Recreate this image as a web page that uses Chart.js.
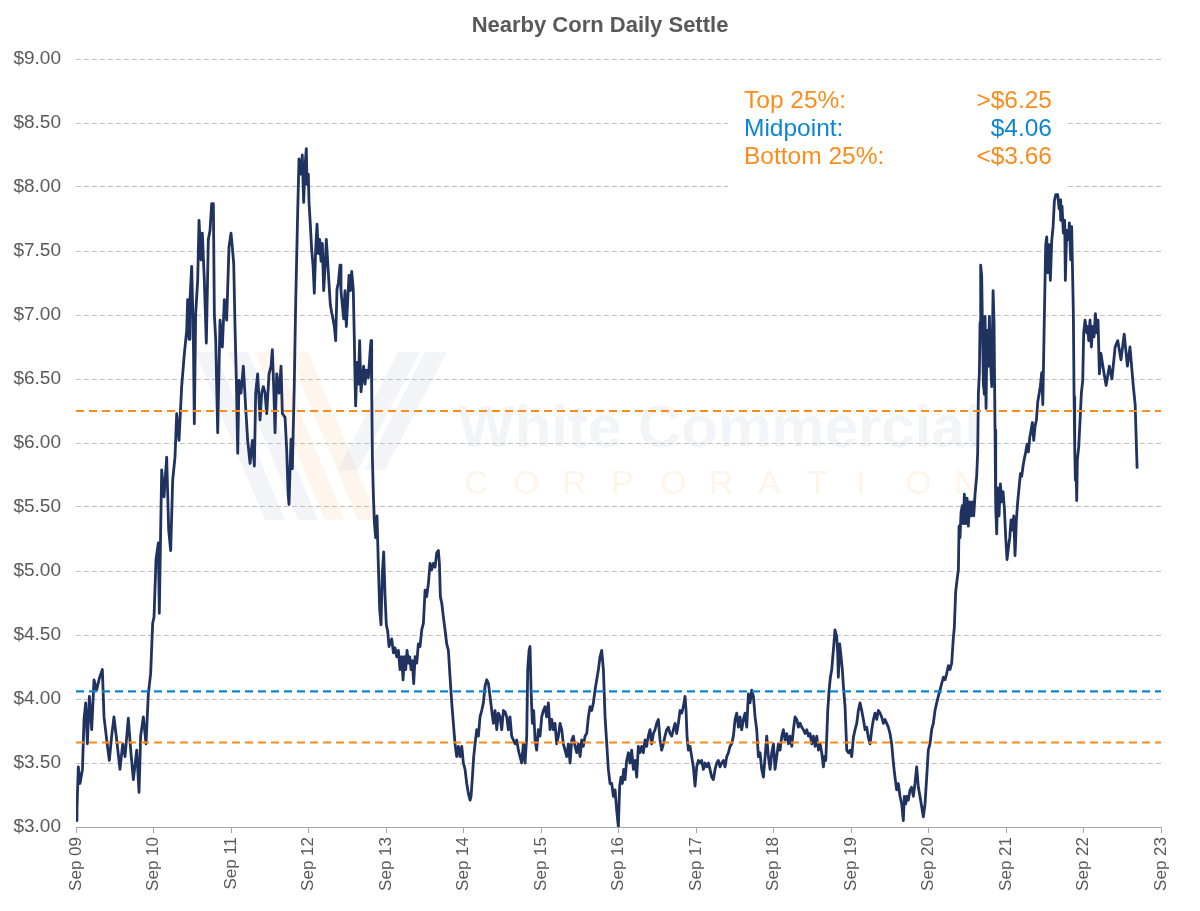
<!DOCTYPE html>
<html>
<head>
<meta charset="utf-8">
<title>Nearby Corn Daily Settle</title>
<script src="https://cdn.jsdelivr.net/npm/chart.js@4.4.1/dist/chart.umd.min.js"></script>
<style>
  html, body { margin: 0; padding: 0; background: #fff; }
  #wrap { width: 1200px; height: 911px; }
</style>
</head>
<body>
<div id="wrap"><canvas id="cornChart" width="1200" height="911"></canvas></div>
<script>
// nearby settle, $/bu — x is months counted from Sep 2009
const s2009 = [[0,3.05],[0.15,3.14],[0.36,3.47],[0.62,3.34],[1.0,3.45],[1.24,3.84],[1.5,3.97],[1.76,3.65],[2.07,4.02],[2.43,3.76],[2.79,4.15],[3.2,4.07],[3.61,4.16],[4.08,4.23],[4.34,3.86],[4.75,3.68],[5.16,3.52],[5.52,3.71],[5.88,3.86],[6.3,3.68],[6.81,3.45],[7.23,3.65],[7.59,3.55],[8.1,3.85],[8.47,3.60],[8.88,3.37],[9.4,3.60],[9.76,3.27],[10.01,3.71],[10.43,3.86],[10.84,3.65],[11.2,4.04],[11.56,4.20],[11.87,4.59]];
const s2010 = [[12.08,4.64],[12.39,5.09],[12.75,5.22],[12.9,4.67],[13.11,5.32],[13.27,5.79],[13.63,5.58],[14.04,5.89],[14.35,5.32],[14.66,5.16],[14.97,5.71],[15.33,5.89],[15.59,6.23],[15.95,6.02],[16.36,6.44],[16.78,6.70],[17.14,6.88],[17.29,7.12],[17.5,6.81],[17.65,7.12],[17.91,7.38],[18.17,6.83],[18.32,6.15],[18.53,7.01],[18.84,7.27],[19.05,7.74],[19.36,7.43],[19.56,7.64],[19.87,7.27],[20.18,6.78],[20.49,7.59],[20.75,7.66],[21.01,7.87],[21.27,7.87],[21.42,7.01],[21.63,6.81],[21.94,6.08],[22.3,6.96],[22.66,6.75],[22.97,7.12],[23.33,6.96],[23.69,7.53]];
const s2011 = [[24.0,7.64],[24.21,7.53],[24.42,7.40],[24.62,6.91],[24.83,6.49],[25.04,5.92],[25.24,6.49],[25.55,6.39],[25.91,6.60],[26.27,6.28],[26.58,6.02],[26.95,5.84],[27.31,6.02],[27.62,5.82],[27.82,6.39],[28.13,6.54],[28.5,6.18],[28.75,6.39],[29.01,6.44],[29.27,6.39],[29.53,6.23],[29.89,6.54],[30.2,6.60],[30.4,6.73],[30.61,6.44],[30.82,6.08],[31.08,6.54],[31.44,6.39],[31.75,6.60],[31.95,6.23],[32.37,6.20],[32.62,5.95],[32.85,5.60],[32.98,5.52],[33.29,6.03],[33.5,5.80],[33.8,6.46],[34.01,7.08],[34.32,7.79],[34.53,8.22],[34.84,8.10],[35.04,8.25],[35.25,7.88],[35.46,8.16],[35.66,8.30],[35.77,8.02],[35.97,8.10]];
const s2012 = [[36.08,7.88],[36.28,7.71],[36.49,7.51],[36.7,7.39],[36.9,7.17],[37.11,7.51],[37.32,7.71],[37.52,7.48],[37.73,7.59],[37.94,7.42],[38.14,7.56],[38.35,7.19],[38.56,7.37],[38.76,7.59],[38.97,7.42],[39.17,7.25],[39.38,7.08],[39.59,7.02],[39.79,6.97],[40.0,6.91],[40.21,6.80],[40.41,7.20],[40.62,7.25],[40.88,7.39],[41.03,7.19],[41.24,7.08],[41.45,6.97],[41.65,7.19],[41.86,6.91],[42.07,7.11],[42.27,7.31],[42.48,7.19],[42.69,7.34],[42.94,7.19],[43.1,6.80],[43.2,6.51],[43.3,6.29],[43.51,6.63],[43.72,6.46],[43.92,6.80],[44.13,6.40],[44.34,6.51],[44.54,6.60],[44.75,6.46],[44.96,6.57],[45.27,6.51],[45.58,6.74],[45.68,6.80],[45.78,6.46],[45.89,5.89],[46.04,5.60],[46.2,5.38],[46.4,5.26],[46.61,5.43],[46.82,5.04],[47.02,4.70],[47.23,4.58],[47.43,4.98],[47.64,5.15],[47.85,4.81]];
const s2013 = [[48.05,4.58],[48.26,4.53],[48.47,4.41],[48.88,4.47],[49.15,4.36],[49.4,4.40],[49.66,4.33],[49.92,4.38],[50.17,4.23],[50.43,4.33],[50.64,4.15],[50.85,4.33],[51.05,4.23],[51.26,4.38],[51.47,4.28],[51.67,4.33],[51.88,4.23],[52.08,4.30],[52.29,4.12],[52.5,4.33],[52.76,4.28],[53.01,4.43],[53.27,4.41],[53.53,4.54],[53.79,4.59],[54.05,4.85],[54.3,4.80],[54.56,4.90],[54.82,5.06],[55.08,5.01],[55.34,5.06],[55.6,5.03],[55.85,5.14],[56.11,5.16],[56.27,5.06],[56.42,4.80],[56.63,4.75],[56.89,4.64],[57.14,4.54],[57.4,4.43],[57.66,4.38],[57.92,4.17],[58.18,3.97],[58.43,3.81],[58.69,3.65],[58.95,3.55],[59.21,3.63],[59.47,3.55],[59.73,3.63]];
const s2014 = [[59.98,3.50],[60.24,3.45],[60.5,3.34],[60.76,3.26],[61.02,3.21],[61.17,3.24],[61.38,3.39],[61.58,3.55],[61.79,3.65],[62.05,3.76],[62.31,3.71],[62.56,3.86],[62.82,3.91],[63.08,3.97],[63.34,4.10],[63.6,4.15],[63.86,4.12],[64.11,4.02],[64.37,3.91],[64.63,3.81],[64.89,3.91],[65.15,3.76],[65.4,3.89],[65.66,3.86],[65.92,3.76],[66.18,3.91],[66.43,3.90],[66.69,3.86],[66.95,3.76],[67.2,3.86],[67.46,3.71],[67.72,3.68],[67.98,3.65],[68.24,3.68],[68.5,3.60],[68.75,3.55],[69.01,3.50],[69.27,3.65],[69.53,3.50],[69.79,3.71],[69.94,4.23],[70.15,4.38],[70.3,4.41],[70.46,4.07],[70.66,3.81],[70.87,3.91],[71.08,3.68],[71.33,3.60],[71.59,3.76],[71.85,3.71]];
const s2015 = [[72.11,3.86],[72.37,3.91],[72.63,3.94],[72.88,3.86],[73.14,3.97],[73.4,3.76],[73.66,3.84],[73.92,3.76],[74.17,3.81],[74.43,3.65],[74.69,3.71],[74.95,3.81],[75.21,3.76],[75.46,3.65],[75.72,3.60],[75.98,3.55],[76.24,3.65],[76.5,3.50],[76.76,3.68],[77.01,3.71],[77.27,3.63],[77.53,3.58],[77.79,3.65],[78.05,3.55],[78.3,3.68],[78.56,3.63],[78.82,3.71],[79.08,3.73],[79.34,3.86],[79.59,3.94],[79.85,3.91],[80.11,3.97],[80.37,4.07],[80.63,4.15],[80.89,4.23],[81.14,4.33],[81.4,4.38],[81.66,4.23],[81.92,3.86],[82.18,3.65],[82.43,3.45],[82.69,3.34],[82.95,3.34],[83.21,3.24],[83.47,3.29],[83.72,3.13],[83.98,3.00]];
const s2016 = [[84.18,3.32],[84.39,3.39],[84.6,3.34],[84.8,3.45],[85.01,3.37],[85.27,3.52],[85.53,3.58],[85.78,3.50],[86.04,3.60],[86.3,3.45],[86.56,3.52],[86.82,3.39],[87.07,3.63],[87.33,3.58],[87.59,3.63],[87.85,3.58],[88.11,3.68],[88.36,3.63],[88.62,3.71],[88.88,3.76],[89.14,3.65],[89.4,3.73],[89.66,3.76],[89.91,3.81],[90.17,3.84],[90.43,3.68],[90.69,3.60],[90.95,3.65],[91.2,3.71],[91.46,3.76],[91.72,3.78],[91.98,3.73],[92.24,3.71],[92.49,3.76],[92.75,3.81],[93.01,3.73],[93.27,3.81],[93.53,3.91],[93.79,3.89],[94.04,3.94],[94.3,4.02],[94.46,3.91],[94.61,3.71],[94.82,3.60],[95.08,3.63],[95.33,3.55],[95.59,3.47],[95.85,3.32]];
const s2017 = [[96.11,3.47],[96.37,3.52],[96.62,3.50],[96.88,3.52],[97.14,3.45],[97.4,3.50],[97.66,3.47],[97.92,3.50],[98.17,3.45],[98.43,3.39],[98.69,3.37],[98.95,3.45],[99.21,3.50],[99.46,3.52],[99.72,3.47],[99.98,3.50],[100.24,3.52],[100.5,3.47],[100.76,3.55],[101.02,3.58],[101.27,3.63],[101.53,3.65],[101.79,3.71],[102.05,3.84],[102.31,3.89],[102.57,3.78],[102.82,3.86],[103.08,3.76],[103.34,3.84],[103.6,3.89],[103.86,3.78],[104.11,4.04],[104.37,3.97],[104.63,4.07],[104.89,4.02],[105.15,3.86],[105.4,3.76],[105.66,3.55],[105.92,3.58],[106.18,3.45],[106.44,3.39],[106.7,3.55],[106.95,3.71],[107.21,3.55],[107.47,3.45],[107.73,3.58],[107.99,3.65]];
const s2018 = [[108.24,3.45],[108.5,3.55],[108.76,3.65],[109.02,3.60],[109.28,3.71],[109.53,3.76],[109.79,3.68],[110.05,3.73],[110.31,3.65],[110.57,3.71],[110.83,3.63],[111.08,3.76],[111.34,3.86],[111.6,3.84],[111.86,3.78],[112.12,3.81],[112.37,3.78],[112.63,3.76],[112.89,3.73],[113.15,3.76],[113.41,3.71],[113.66,3.73],[113.92,3.65],[114.18,3.71],[114.44,3.63],[114.7,3.71],[114.96,3.60],[115.21,3.65],[115.47,3.58],[115.73,3.47],[115.88,3.55],[116.09,3.52],[116.25,3.71],[116.4,3.91],[116.61,4.07],[116.81,4.17],[117.02,4.23],[117.3,4.40],[117.52,4.54],[117.78,4.49],[117.94,4.36],[118.04,4.17],[118.25,4.43],[118.46,4.33],[118.66,4.23],[118.82,4.10],[119.08,3.94],[119.34,3.60],[119.6,3.58],[119.85,3.60]];
const s2019 = [[120.11,3.55],[120.37,3.70],[120.63,3.76],[120.89,3.81],[121.14,3.91],[121.4,3.97],[121.66,3.91],[121.92,3.84],[122.18,3.76],[122.43,3.78],[122.69,3.70],[122.95,3.65],[123.21,3.76],[123.47,3.84],[123.72,3.89],[123.98,3.84],[124.24,3.91],[124.5,3.89],[124.75,3.86],[125.01,3.81],[125.27,3.84],[125.53,3.81],[125.78,3.78],[126.04,3.73],[126.3,3.65],[126.56,3.50],[126.81,3.39],[127.07,3.29],[127.33,3.34],[127.59,3.24],[127.85,3.18],[128.1,3.05],[128.26,3.24],[128.47,3.18],[128.67,3.24],[128.88,3.21],[129.14,3.29],[129.39,3.31],[129.65,3.24],[129.91,3.34],[130.17,3.47],[130.43,3.31],[130.68,3.24],[130.94,3.16],[131.2,3.08],[131.46,3.18],[131.72,3.39],[131.97,3.60]];
const s2020 = [[132.23,3.65],[132.49,3.76],[132.75,3.81],[133.01,3.91],[133.27,3.97],[133.52,4.02],[133.78,4.07],[134.04,4.12],[134.3,4.17],[134.56,4.15],[134.82,4.20],[135.08,4.26],[135.33,4.23],[135.59,4.28],[135.85,4.48],[136.0,4.56],[136.21,4.84],[136.42,4.93],[136.63,5.01],[136.73,5.35],[136.88,5.26],[137.04,5.46],[137.24,5.51],[137.4,5.37],[137.55,5.60],[137.76,5.37],[137.97,5.57],[138.17,5.35],[138.38,5.54],[138.59,5.43],[138.79,5.54],[139.0,5.43],[139.21,5.60],[139.46,5.74],[139.62,5.93],[139.72,6.38],[139.88,6.55],[139.98,6.94],[140.08,7.39],[140.24,7.30],[140.34,6.94],[140.5,6.46],[140.65,6.38],[140.76,6.99],[140.91,6.27],[141.07,6.88],[141.27,6.60],[141.43,6.99],[141.58,6.66],[141.79,6.44],[142.0,7.19],[142.15,6.94],[142.3,6.10],[142.41,5.49],[142.56,5.29],[142.72,5.65],[142.92,5.43],[143.13,5.68],[143.34,5.54],[143.54,5.62],[143.75,5.49],[143.96,5.26]];
const s2021 = [[144.16,5.09],[144.37,5.18],[144.58,5.26],[144.78,5.40],[144.99,5.32],[145.2,5.43],[145.4,5.12],[145.61,5.40],[145.81,5.54],[146.02,5.65],[146.23,5.76],[146.43,5.74],[146.64,5.82],[146.85,5.88],[147.05,5.93],[147.26,5.99],[147.47,5.93],[147.67,6.04],[147.88,6.10],[148.09,6.16],[148.29,6.02],[148.5,6.13],[148.71,6.18],[148.91,6.32],[149.12,6.38],[149.33,6.45],[149.53,6.55],[149.7,6.30],[149.94,6.99],[150.15,7.55],[150.31,7.61],[150.46,7.33],[150.67,7.55],[150.87,7.27],[151.08,7.58],[151.29,7.69],[151.49,7.89],[151.7,7.94],[152.01,7.94],[152.22,7.83],[152.37,7.90],[152.47,7.74],[152.68,7.85],[152.88,7.64],[153.09,7.74],[153.19,7.27],[153.4,7.66],[153.66,7.59],[153.81,7.72],[154.02,7.43],[154.17,7.69],[154.33,7.27],[154.43,7.01],[154.54,6.36],[154.64,5.97],[154.74,5.71],[154.85,5.81],[154.95,5.55],[155.05,5.87],[155.26,5.97],[155.47,6.18],[155.67,6.39],[155.88,6.49]];
const s2022 = [[156.03,6.86],[156.24,6.96],[156.5,6.86],[156.65,6.91],[156.81,6.80],[157.01,6.96],[157.22,6.75],[157.43,6.91],[157.63,6.83],[157.84,7.01],[158.05,6.86],[158.25,6.96],[158.46,6.54],[158.7,6.70],[159.0,6.60],[159.5,6.45],[160.0,6.60],[160.4,6.50],[160.9,6.75],[161.3,6.80],[161.8,6.65],[162.3,6.85],[162.8,6.60],[163.2,6.75],[163.7,6.45],[164.0,6.30],[164.3,5.80]];

const tickLabels = ['Sep 09','Sep 10','Sep 11','Sep 12','Sep 13','Sep 14','Sep 15','Sep 16','Sep 17','Sep 18','Sep 19','Sep 20','Sep 21','Sep 22','Sep 23'];
const topQuartile = 6.25;
const midpoint = 4.06;
const bottomQuartile = 3.66;

const settle = [...s2009, ...s2010, ...s2011, ...s2012, ...s2013, ...s2014, ...s2015,
                ...s2016, ...s2017, ...s2018, ...s2019, ...s2020, ...s2021, ...s2022];

const ORANGE = '#FB8C1C';
const BLUE = '#0C86D2';
const NAVY = '#1F3260';
const GREY_TEXT = '#595959';
const FONT = '"Liberation Sans", Arial, sans-serif';

const flatLine = v => [{ x: 0, y: v }, { x: 168, y: v }];

// title, faint watermark and the quartile text box
const decor = {
    id: 'decor',
    beforeDatasetsDraw(chart) {
        const ctx = chart.ctx;
        ctx.save();

        // watermark stripes
        const band = (pts, color) => {
            ctx.beginPath();
            ctx.moveTo(pts[0][0], pts[0][1]);
            pts.slice(1).forEach(p => ctx.lineTo(p[0], p[1]));
            ctx.closePath();
            ctx.fillStyle = color;
            ctx.fill();
        };
        const grey = 'rgba(200,205,222,0.22)';
        const orng = 'rgba(252,205,150,0.18)';
        band([[195,352],[215,352],[285,520],[265,520]], grey);
        band([[228,352],[248,352],[318,520],[298,520]], grey);
        band([[255,352],[275,352],[345,520],[325,520]], orng);
        band([[288,352],[308,352],[378,520],[358,520]], orng);
        band([[425,352],[447,352],[385,470],[365,470]], grey);
        band([[398,352],[420,352],[358,470],[338,470]], grey);

        ctx.font = 'bold 60px ' + FONT;
        ctx.fillStyle = 'rgba(200,205,222,0.22)';
        ctx.textBaseline = 'alphabetic';
        ctx.textAlign = 'left';
        ctx.fillText('White Commercial', 458, 447);
        ctx.font = '14px ' + FONT;
        ctx.fillText('TM', 978, 408);
        ctx.font = '34px ' + FONT;
        ctx.fillStyle = 'rgba(252,205,150,0.22)';
        const word = 'CORPORATION';
        for (let i = 0; i < word.length; i++) {
            ctx.fillText(word[i], 464 + i * 49, 494);
        }

        // text box
        ctx.fillStyle = '#ffffff';
        ctx.fillRect(728, 72, 337, 120);
        ctx.font = '24.5px ' + FONT;
        const rows = [['Top 25%:', '>$' + topQuartile.toFixed(2), ORANGE],
                      ['Midpoint:', '$' + midpoint.toFixed(2), BLUE],
                      ['Bottom 25%:', '<$' + bottomQuartile.toFixed(2), ORANGE]];
        rows.forEach((r, i) => {
            const y = 108 + i * 28;
            ctx.fillStyle = r[2];
            ctx.textAlign = 'left';
            ctx.fillText(r[0], 744, y);
            ctx.textAlign = 'right';
            ctx.fillText(r[1], 1052, y);
        });
        ctx.restore();
    },
    afterDraw(chart) {
        const ctx = chart.ctx;
        ctx.save();
        ctx.font = 'bold 22px ' + FONT;
        ctx.fillStyle = GREY_TEXT;
        ctx.textAlign = 'center';
        ctx.textBaseline = 'alphabetic';
        ctx.fillText('Nearby Corn Daily Settle', 600, 32);
        ctx.restore();
    }
};

new Chart(document.getElementById('cornChart'), {
    type: 'line',
    data: {
        datasets: [
            { data: flatLine(topQuartile), borderColor: ORANGE, borderWidth: 2.2, borderDash: [8, 5], pointRadius: 0, order: 0 },
            { data: flatLine(midpoint), borderColor: BLUE, borderWidth: 2.2, borderDash: [8, 5], pointRadius: 0, order: 0 },
            { data: flatLine(bottomQuartile), borderColor: ORANGE, borderWidth: 2.2, borderDash: [8, 5], pointRadius: 0, order: 0 },
            {
                label: 'Nearby Corn Daily Settle',
                data: settle.map(([x, y]) => ({ x, y })),
                borderColor: NAVY,
                borderWidth: 2.8,
                pointRadius: 0,
                tension: 0,
                borderJoinStyle: 'round',
                order: 1
            }
        ]
    },
    options: {
        responsive: false,
        animation: false,
        devicePixelRatio: 1,
        layout: { padding: { top: 59, right: 39, bottom: 0, left: 0 } },
        plugins: { legend: { display: false }, tooltip: { enabled: false }, title: { display: false } },
        scales: {
            x: {
                type: 'linear',
                min: 0,
                max: 168,
                afterFit: s => { s.height = 84; },
                ticks: {
                    stepSize: 12,
                    autoSkip: false,
                    minRotation: 90,
                    maxRotation: 90,
                    padding: 4,
                    color: GREY_TEXT,
                    font: { family: FONT, size: 17 },
                    callback: v => tickLabels[v / 12]
                },
                grid: { drawOnChartArea: false, drawTicks: true, tickLength: 6, color: '#A6A6A6' },
                border: { display: true, color: '#A6A6A6', width: 1 }
            },
            y: {
                min: 3,
                max: 9,
                afterFit: s => { s.width = 76; },
                ticks: {
                    stepSize: 0.5,
                    padding: 15,
                    color: GREY_TEXT,
                    font: { family: FONT, size: 19 },
                    callback: v => '$' + v.toFixed(2)
                },
                grid: { color: '#BFBFBF', lineWidth: 1, drawTicks: false },
                border: { display: false, dash: [5, 3] }
            }
        }
    },
    plugins: [decor]
});
</script>
</body>
</html>
